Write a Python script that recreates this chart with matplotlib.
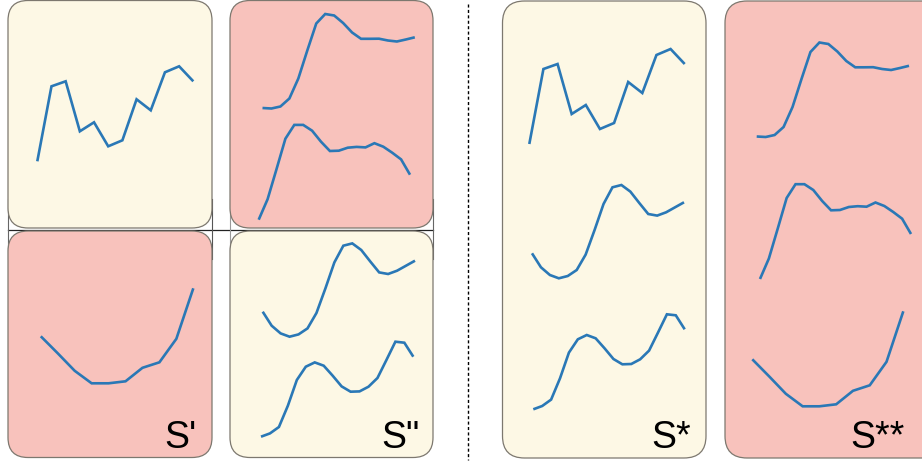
import matplotlib
matplotlib.use("Agg")
import matplotlib.pyplot as plt
from matplotlib.patches import FancyBboxPatch

# ---- curve values (height above each curve's lowest point) ----
curve_a = [0, 75, 80, 30, 39, 15, 21, 62, 51, 89, 95, 80]
curve_b = [0.5, 0, 2, 10, 30, 58, 85, 94.5, 93, 85.5, 76, 69.7, 69.7, 69.8, 68, 67, 69, 71.2]
curve_c = [0, 20.5, 50.5, 81, 94.8, 94.8, 89, 78, 68.7, 69, 72, 72.8, 72.3, 76.5, 73, 67, 60.3, 45]
curve_d = [47, 30, 12.5, 0, 0, 2, 15.5, 21, 44.5, 95]
curve_e = [25, 11, 3.3, 0, 2.3, 8.3, 23.7, 48.3, 74.3, 91, 93.3, 86.7, 75.3, 64.3, 62.7, 66, 71, 76]
curve_f = [0, 3.3, 9.7, 31, 56.7, 70, 74.3, 71, 61, 50.3, 45, 45.3, 50, 58.7, 76.7, 95, 94, 80]

labels = ["S'", 'S"', "S*", "S**"]

W, H = 922, 464
YELLOW = "#fdf8e5"
RED = "#f8c2bc"
EDGE = "#7d786f"
BLUE = "#2a78b6"

fig = plt.figure(figsize=(W / 100, H / 100), dpi=100)
ax = fig.add_axes([0, 0, 1, 1])
ax.set_xlim(0, W)
ax.set_ylim(H, 0)
ax.axis("off")

# table-like lines behind the boxes
ax.plot([8, 433], [230.5, 230.5], color="#222222", lw=0.9, zorder=0)
for x, c in [(8.3, "#666666"), (212.3, "#555555"), (230, "#9a9a9a"), (433.3, "#666666")]:
    ax.plot([x, x], [200, 260], color=c, lw=0.8, zorder=0)

# boxes: (x0, y_top, x1, y_bottom, colour, radius)
boxes = [
    (8, 1.5, 212, 229, YELLOW, 20),
    (230, 1.5, 433, 229, RED, 20),
    (8, 232, 212, 458.5, RED, 20),
    (230, 232, 433, 458.5, YELLOW, 20),
    (502.5, 2, 706, 459, YELLOW, 22),
    (725, 2, 945, 459, RED, 22),
]
for x0, y0, x1, y1, col, r in boxes:
    p = FancyBboxPatch((x0, y0), x1 - x0, y1 - y0,
                       boxstyle=f"round,pad=0,rounding_size={r}",
                       facecolor=col, edgecolor=EDGE, lw=0.9, zorder=1)
    ax.add_patch(p)

# dashed separator
ax.plot([467.5, 467.5], [5, 461], color="black", lw=1.0,
        linestyle=(0, (2.2, 1.7)), zorder=2)

# curve placements: (values, x_left, x_right, y_bottom)
placements = [
    (curve_a, 37.3, 193.3, 162.3),
    (curve_b, 262.5, 414.8, 109.5),
    (curve_c, 258.7, 410.0, 220.7),
    (curve_d, 40.8, 193.3, 384.3),
    (curve_e, 262.7, 415.0, 337.7),
    (curve_f, 261.0, 413.3, 437.7),
    (curve_a, 529.3, 684.7, 145.0),
    (curve_e, 532.0, 684.0, 279.3),
    (curve_f, 533.3, 684.7, 410.3),
    (curve_b, 756.7, 909.0, 138.0),
    (curve_c, 760.0, 911.0, 280.0),
    (curve_d, 752.3, 903.3, 407.3),
]
SPAN = 95.0
for vals, xl, xr, yb in placements:
    iax = fig.add_axes([xl / W, 1 - yb / H, (xr - xl) / W, SPAN / H])
    iax.plot(range(len(vals)), vals, color=BLUE, lw=1.9, clip_on=False,
             solid_joinstyle="miter", solid_capstyle="butt")
    iax.set_xlim(0, len(vals) - 1)
    iax.set_ylim(0, SPAN)
    iax.axis("off")

# labels: (text, x_right, baseline)
label_pos = [(196.7, 448), (419.5, 448), (690.5, 448), (904.5, 448)]
for t, (x, y) in zip(labels, label_pos):
    ax.text(x, y, t, ha="right", va="baseline", fontsize=27,
            family=["Liberation Sans", "DejaVu Sans"], color="black", zorder=3)

fig.savefig("out.png", dpi=100)
